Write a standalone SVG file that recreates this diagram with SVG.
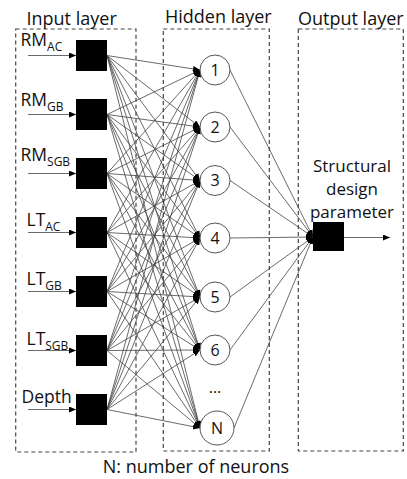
<svg xmlns="http://www.w3.org/2000/svg" width="407" height="479" viewBox="0 0 407 479">
<style>
text{font-family:"Open Sans","Liberation Sans",sans-serif;fill:#111}
.box{fill:none;stroke:#444;stroke-width:1.2;stroke-dasharray:4,3}
.sq{fill:#000}
.c{fill:#fff;stroke:#555;stroke-width:1}
.ttl{font-size:18px}
.lbl{font-size:17.5px}
.out{font-size:17px}
.sub{font-size:12px}
.num{font-size:16px;text-anchor:middle}
.con line{stroke:#444;stroke-width:0.8;marker-end:url(#ah)}
</style>
<defs>
<marker id="ah" markerUnits="userSpaceOnUse" markerWidth="7" markerHeight="6" refX="7" refY="3" orient="auto">
<path d="M0,0 L7,3 L0,6 z" fill="#000"/>
</marker>
</defs>
<g id="boxes">
<rect class="box" x="15.7" y="29" width="120.3" height="423"/>
<rect class="box" x="163.3" y="29" width="106" height="422"/>
<rect class="box" x="298.3" y="29" width="105" height="422"/>
<text class="ttl" x="26.5" y="25">Input layer</text>
<text class="ttl" x="165" y="22.5">Hidden layer</text>
<text class="ttl" x="298" y="24.5">Output layer</text>
</g>
<g id="connectors" class="con">
<line x1="28" y1="55.5" x2="76" y2="55.5"/>
<line x1="28" y1="114.5" x2="76" y2="114.5"/>
<line x1="28" y1="173.5" x2="76" y2="173.5"/>
<line x1="28" y1="232.5" x2="76" y2="232.5"/>
<line x1="28" y1="291.5" x2="76" y2="291.5"/>
<line x1="28" y1="350.5" x2="76" y2="350.5"/>
<line x1="28" y1="409.5" x2="76" y2="409.5"/>
<line x1="107" y1="55.5" x2="200" y2="70"/><line x1="107" y1="55.5" x2="200" y2="127"/><line x1="107" y1="55.5" x2="200" y2="180.5"/><line x1="107" y1="55.5" x2="200" y2="238"/><line x1="107" y1="55.5" x2="200" y2="297"/><line x1="107" y1="55.5" x2="200" y2="350"/><line x1="107" y1="55.5" x2="200" y2="428"/>
<line x1="107" y1="114.5" x2="200" y2="70"/><line x1="107" y1="114.5" x2="200" y2="127"/><line x1="107" y1="114.5" x2="200" y2="180.5"/><line x1="107" y1="114.5" x2="200" y2="238"/><line x1="107" y1="114.5" x2="200" y2="297"/><line x1="107" y1="114.5" x2="200" y2="350"/><line x1="107" y1="114.5" x2="200" y2="428"/>
<line x1="107" y1="173.5" x2="200" y2="70"/><line x1="107" y1="173.5" x2="200" y2="127"/><line x1="107" y1="173.5" x2="200" y2="180.5"/><line x1="107" y1="173.5" x2="200" y2="238"/><line x1="107" y1="173.5" x2="200" y2="297"/><line x1="107" y1="173.5" x2="200" y2="350"/><line x1="107" y1="173.5" x2="200" y2="428"/>
<line x1="107" y1="232.5" x2="200" y2="70"/><line x1="107" y1="232.5" x2="200" y2="127"/><line x1="107" y1="232.5" x2="200" y2="180.5"/><line x1="107" y1="232.5" x2="200" y2="238"/><line x1="107" y1="232.5" x2="200" y2="297"/><line x1="107" y1="232.5" x2="200" y2="350"/><line x1="107" y1="232.5" x2="200" y2="428"/>
<line x1="107" y1="291.5" x2="200" y2="70"/><line x1="107" y1="291.5" x2="200" y2="127"/><line x1="107" y1="291.5" x2="200" y2="180.5"/><line x1="107" y1="291.5" x2="200" y2="238"/><line x1="107" y1="291.5" x2="200" y2="297"/><line x1="107" y1="291.5" x2="200" y2="350"/><line x1="107" y1="291.5" x2="200" y2="428"/>
<line x1="107" y1="350.5" x2="200" y2="70"/><line x1="107" y1="350.5" x2="200" y2="127"/><line x1="107" y1="350.5" x2="200" y2="180.5"/><line x1="107" y1="350.5" x2="200" y2="238"/><line x1="107" y1="350.5" x2="200" y2="297"/><line x1="107" y1="350.5" x2="200" y2="350"/><line x1="107" y1="350.5" x2="200" y2="428"/>
<line x1="107" y1="409.5" x2="200" y2="70"/><line x1="107" y1="409.5" x2="200" y2="127"/><line x1="107" y1="409.5" x2="200" y2="180.5"/><line x1="107" y1="409.5" x2="200" y2="238"/><line x1="107" y1="409.5" x2="200" y2="297"/><line x1="107" y1="409.5" x2="200" y2="350"/><line x1="107" y1="409.5" x2="200" y2="428"/>
<line x1="230" y1="70" x2="313" y2="237"/>
<line x1="230" y1="127" x2="313" y2="237"/>
<line x1="230" y1="180.5" x2="313" y2="237"/>
<line x1="230" y1="238" x2="313" y2="237"/>
<line x1="230" y1="297" x2="313" y2="237"/>
<line x1="230" y1="350" x2="313" y2="237"/>
<line x1="234" y1="428" x2="313" y2="237"/>
<line x1="344" y1="237.5" x2="390" y2="237.5"/>
</g>
<g id="in1"><rect class="sq" x="76" y="40" width="31" height="31"/><text class="lbl" x="20.5" y="46">RM<tspan class="sub" dy="5">AC</tspan></text></g>
<g id="in2"><rect class="sq" x="76" y="99" width="31" height="31"/><text class="lbl" x="20.5" y="106">RM<tspan class="sub" dy="5">GB</tspan></text></g>
<g id="in3"><rect class="sq" x="76" y="158" width="31" height="31"/><text class="lbl" x="20.5" y="161">RM<tspan class="sub" dy="5">SGB</tspan></text></g>
<g id="in4"><rect class="sq" x="76" y="217" width="31" height="31"/><text class="lbl" x="26.5" y="226">LT<tspan class="sub" dy="5">AC</tspan></text></g>
<g id="in5"><rect class="sq" x="76" y="276" width="31" height="31"/><text class="lbl" x="26.5" y="285">LT<tspan class="sub" dy="5">GB</tspan></text></g>
<g id="in6"><rect class="sq" x="76" y="335" width="31" height="31"/><text class="lbl" x="26.5" y="345">LT<tspan class="sub" dy="5">SGB</tspan></text></g>
<g id="in7"><rect class="sq" x="76" y="394" width="31" height="31"/><text class="lbl" x="21.5" y="403">Depth</text></g>
<g id="h1"><circle class="c" cx="215" cy="70" r="15"/><text class="num" x="215" y="75.5">1</text></g>
<g id="h2"><circle class="c" cx="215" cy="127" r="15"/><text class="num" x="215" y="132.5">2</text></g>
<g id="h3"><circle class="c" cx="215" cy="180.5" r="15"/><text class="num" x="215" y="186">3</text></g>
<g id="h4"><circle class="c" cx="215" cy="238" r="15"/><text class="num" x="215" y="243.5">4</text></g>
<g id="h5"><circle class="c" cx="215" cy="297" r="15"/><text class="num" x="215" y="302.5">5</text></g>
<g id="h6"><circle class="c" cx="215" cy="350" r="15"/><text class="num" x="215" y="355.5">6</text></g>
<g id="dots"><text class="num" x="215" y="393">...</text></g>
<g id="hN"><circle class="c" cx="217" cy="428" r="17"/><text class="num" x="217" y="433.5">N</text></g>
<g id="out"><rect class="sq" x="313" y="222" width="31" height="29"/>
<text class="out" text-anchor="middle" x="352" y="171.5">Structural</text>
<text class="out" text-anchor="middle" x="352" y="194.5">design</text>
<text class="out" text-anchor="middle" x="352" y="217.5">parameter</text></g>
<text class="ttl" text-anchor="middle" x="196" y="473">N: number of neurons</text>
</svg>
